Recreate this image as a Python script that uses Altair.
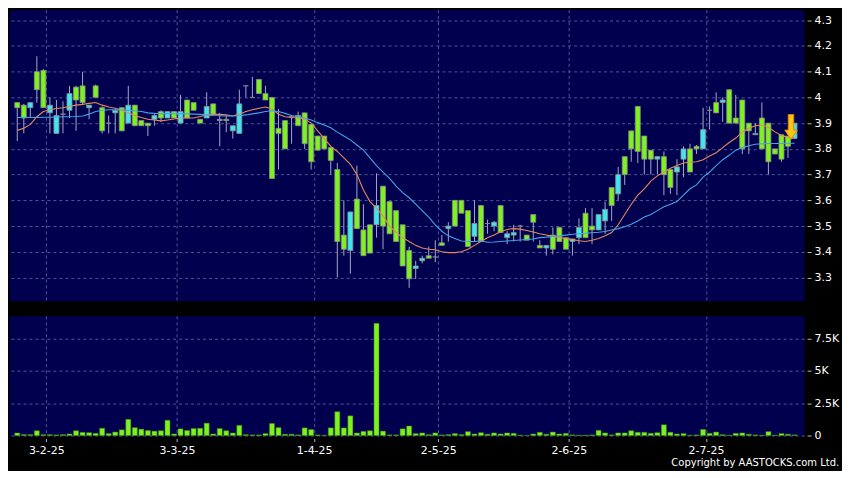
import altair as alt
import pandas as pd

# ---------------- data ----------------
opens = [3.98, 3.97, 3.96, 4.10, 4.105, 3.94, 3.86, 3.935, 3.95, 4.04,
         4.045, 3.96, 4.045, 3.96, 3.90, 3.94, 3.96, 3.90, 3.97, 3.91,
         3.90, 3.915, 3.945, 3.92, 3.945, 3.90, 3.99, 3.98, 3.915, 3.92,
         3.975, 3.91, 3.915, 3.87, 3.86, 4.045, 4.00, 4.07, 4.015, 4.00,
         3.88, 3.91, 3.925, 3.93, 3.94, 3.895, 3.85, 3.85, 3.805, 3.72,
         3.465, 3.405, 3.605, 3.485, 3.505, 3.505, 3.655, 3.595, 3.56, 3.505,
         3.405, 3.335, 3.365, 3.385, 3.38, 3.435, 3.49, 3.60, 3.60, 3.56,
         3.46, 3.58, 3.51, 3.50, 3.58, 3.455, 3.465, 3.50, 3.465, 3.545,
         3.425, 3.415, 3.465, 3.495, 3.455, 3.44, 3.455, 3.55, 3.50, 3.485,
         3.52, 3.65, 3.625, 3.77, 3.87, 3.965, 3.85, 3.795, 3.76, 3.77,
         3.72, 3.71, 3.76, 3.80, 3.81, 3.80, 3.95, 3.98, 3.98, 4.03,
         3.92, 3.99, 3.90, 3.855, 3.92, 3.90, 3.80, 3.855, 3.85, 3.84]
highs = [3.98, 3.975, 3.98, 4.16, 4.11, 4.00, 3.99, 3.985, 4.045, 4.045,
         4.10, 3.97, 4.05, 3.965, 3.93, 3.95, 3.96, 4.045, 3.97, 3.91,
         3.90, 3.935, 3.95, 3.945, 3.945, 4.01, 3.99, 3.98, 3.915, 4.02,
         3.975, 3.94, 3.93, 3.89, 4.03, 4.045, 4.08, 4.07, 4.045, 4.00,
         3.955, 3.91, 3.93, 3.945, 3.94, 3.895, 3.85, 3.85, 3.805, 3.745,
         3.60, 3.555, 3.735, 3.585, 3.505, 3.705, 3.655, 3.595, 3.56, 3.505,
         3.42, 3.365, 3.385, 3.42, 3.445, 3.465, 3.515, 3.60, 3.60, 3.56,
         3.60, 3.58, 3.525, 3.52, 3.58, 3.48, 3.505, 3.505, 3.465, 3.545,
         3.445, 3.425, 3.495, 3.495, 3.455, 3.45, 3.53, 3.57, 3.57, 3.545,
         3.595, 3.65, 3.73, 3.77, 3.87, 3.965, 3.85, 3.795, 3.77, 3.79,
         3.72, 3.76, 3.81, 3.82, 3.815, 3.96, 3.965, 4.02, 4.00, 4.03,
         4.01, 3.99, 3.90, 3.90, 3.98, 3.90, 3.80, 3.855, 3.85, 3.90]
lows = [3.83, 3.86, 3.92, 3.98, 3.96, 3.86, 3.86, 3.86, 3.92, 3.87,
        3.97, 3.915, 4.00, 3.86, 3.86, 3.86, 3.87, 3.90, 3.89, 3.89,
        3.85, 3.89, 3.905, 3.92, 3.92, 3.90, 3.92, 3.95, 3.90, 3.92,
        3.935, 3.81, 3.865, 3.84, 3.86, 4.00, 4.00, 4.015, 3.99, 3.685,
        3.72, 3.80, 3.82, 3.89, 3.80, 3.72, 3.795, 3.80, 3.70, 3.30,
        3.385, 3.315, 3.49, 3.385, 3.395, 3.455, 3.41, 3.47, 3.44, 3.345,
        3.26, 3.295, 3.355, 3.375, 3.36, 3.425, 3.44, 3.50, 3.55, 3.42,
        3.44, 3.44, 3.47, 3.48, 3.475, 3.43, 3.44, 3.44, 3.445, 3.44,
        3.415, 3.385, 3.39, 3.44, 3.41, 3.385, 3.43, 3.455, 3.43, 3.485,
        3.47, 3.52, 3.60, 3.66, 3.75, 3.745, 3.70, 3.70, 3.70, 3.62,
        3.625, 3.62, 3.69, 3.71, 3.78, 3.80, 3.875, 3.94, 3.905, 3.90,
        3.90, 3.78, 3.78, 3.855, 3.80, 3.70, 3.78, 3.75, 3.765, 3.84]
closes = [3.96, 3.92, 3.98, 4.03, 3.96, 3.97, 3.93, 3.935, 4.015, 3.99,
          3.98, 3.97, 4.00, 3.87, 3.90, 3.95, 3.87, 3.97, 3.89, 3.89,
          3.89, 3.93, 3.92, 3.945, 3.92, 3.945, 3.92, 3.95, 3.90, 3.965,
          3.935, 3.915, 3.91, 3.89, 3.975, 4.045, 4.00, 4.015, 3.99, 3.685,
          3.86, 3.80, 3.925, 3.89, 3.82, 3.75, 3.795, 3.80, 3.755, 3.44,
          3.41, 3.555, 3.49, 3.385, 3.395, 3.58, 3.50, 3.47, 3.44, 3.345,
          3.295, 3.345, 3.375, 3.375, 3.38, 3.425, 3.50, 3.50, 3.55, 3.42,
          3.51, 3.44, 3.51, 3.515, 3.475, 3.47, 3.475, 3.50, 3.445, 3.515,
          3.415, 3.425, 3.41, 3.44, 3.41, 3.45, 3.495, 3.455, 3.485, 3.545,
          3.565, 3.58, 3.70, 3.70, 3.80, 3.79, 3.76, 3.76, 3.77, 3.70,
          3.65, 3.73, 3.80, 3.71, 3.80, 3.875, 3.95, 3.94, 3.99, 3.90,
          3.90, 3.80, 3.87, 3.86, 3.80, 3.75, 3.78, 3.76, 3.81, 3.90]
volumes = [196, 70, 70, 370, 70, 70, 50, 70, 120, 370,
           245, 220, 170, 560, 150, 270, 440, 1250, 610, 490,
           390, 340, 370, 1180, 120, 515, 390, 540, 560, 955,
           120, 540, 370, 196, 785, 70, 50, 50, 150, 930,
           610, 100, 100, 50, 590, 465, 50, 25, 590, 1840,
           590, 1520, 196, 320, 370, 8670, 340, 50, 50, 515,
           735, 150, 200, 70, 200, 50, 70, 150, 70, 300,
           120, 220, 100, 200, 120, 200, 170, 30, 10, 120,
           250, 100, 270, 120, 170, 50, 30, 30, 50, 400,
           200, 50, 200, 200, 370, 250, 250, 170, 220, 830,
           250, 120, 150, 30, 50, 470, 170, 270, 70, 30,
           170, 200, 100, 50, 30, 300, 30, 150, 100, 50]
ma_short = [3.872, 3.88, 3.895, 3.925, 3.945, 3.952, 3.957, 3.96, 3.966, 3.97,
            3.973, 3.977, 3.98, 3.97, 3.963, 3.958, 3.95, 3.94, 3.93, 3.922,
            3.915, 3.912, 3.909, 3.912, 3.916, 3.92, 3.92, 3.92, 3.926, 3.932,
            3.934, 3.934, 3.932, 3.928, 3.935, 3.945, 3.952, 3.958, 3.963, 3.955,
            3.935, 3.925, 3.922, 3.92, 3.916, 3.90, 3.87, 3.84, 3.81, 3.79,
            3.765, 3.74, 3.70, 3.64, 3.595, 3.57, 3.54, 3.50, 3.475, 3.455,
            3.44, 3.425, 3.415, 3.41, 3.408, 3.40, 3.397, 3.397, 3.40, 3.41,
            3.425, 3.44, 3.455, 3.465, 3.478, 3.487, 3.49, 3.488, 3.483, 3.477,
            3.47, 3.465, 3.46, 3.456, 3.452, 3.448, 3.443, 3.44, 3.445, 3.452,
            3.462, 3.475, 3.505, 3.545, 3.585, 3.62, 3.645, 3.675, 3.695, 3.71,
            3.725, 3.735, 3.745, 3.748, 3.75, 3.758, 3.772, 3.785, 3.805, 3.825,
            3.842, 3.865, 3.88, 3.89, 3.893, 3.884, 3.866, 3.852, 3.845, 3.842]
ma_long = [3.922, 3.922, 3.922, 3.922, 3.923, 3.923, 3.924, 3.925, 3.925, 3.926,
           3.928, 3.935, 3.945, 3.95, 3.952, 3.952, 3.951, 3.95, 3.948, 3.945,
           3.94, 3.938, 3.937, 3.937, 3.937, 3.937, 3.936, 3.935, 3.934, 3.932,
           3.93, 3.929, 3.928, 3.928, 3.929, 3.932, 3.936, 3.94, 3.945, 3.948,
           3.945, 3.938, 3.93, 3.925, 3.92, 3.912, 3.902, 3.893, 3.882, 3.865,
           3.85, 3.835, 3.815, 3.795, 3.765, 3.735, 3.71, 3.685, 3.655, 3.63,
           3.61, 3.585, 3.56, 3.535, 3.505, 3.48, 3.462, 3.452, 3.442, 3.44,
           3.44, 3.443, 3.437, 3.438, 3.44, 3.442, 3.444, 3.446, 3.448, 3.45,
           3.455, 3.457, 3.46, 3.462, 3.465, 3.468, 3.47, 3.472, 3.474, 3.476,
           3.479, 3.485, 3.49, 3.497, 3.507, 3.52, 3.535, 3.545, 3.56, 3.575,
           3.585, 3.595, 3.62, 3.645, 3.66, 3.69, 3.71, 3.735, 3.758, 3.775,
           3.795, 3.805, 3.812, 3.818, 3.82, 3.821, 3.821, 3.821, 3.822, 3.822]

tick_idx = [4, 24, 45, 64, 84, 105]
tick_labels = ["3-2-25", "3-3-25", "1-4-25", "2-5-25", "2-6-25", "2-7-25"]
price_ticks = [3.3, 3.4, 3.5, 3.6, 3.7, 3.8, 3.9, 4.0, 4.1, 4.2, 4.3]
vol_ticks = [0, 2500, 5000, 7500]
vol_labels = ["0", "2.5K", "5K", "7.5K"]
arrow_idx = [118]
arrow_price = [3.885]
copyright_text = "Copyright by AASTOCKS.com Ltd."

# ---------------- styling ----------------
NAVY = "#00004e"
GRID = "#4b5896"
GREEN = "#7df21f"
CYAN = "#3fe6f2"
BORDER = "#8a8a8a"
WICK = "#a6a6c4"
ORANGE = "#e6895a"
BLUE = "#45a3e6"
FONT = "DejaVu Sans"

W = 797
H1 = 292
H2 = 120
X_DOMAIN = [-0.5, 119.7]
GRID_SHIFT = 0.45

n = len(opens)
df = pd.DataFrame({
    "i": list(range(n)), "o": opens, "h": highs, "l": lows, "c": closes,
    "v": volumes, "ma1": ma_short, "ma2": ma_long,
})
arrow_df = pd.DataFrame({"i": arrow_idx, "p": arrow_price})

grid_x = [t + GRID_SHIFT for t in tick_idx]
x_label_expr = "".join(
    f"round(datum.value - {GRID_SHIFT}) == {t} ? '{lab}' : "
    for t, lab in zip(tick_idx, tick_labels)
) + "''"
vol_label_expr = "".join(
    f"datum.value == {v} ? '{lab}' : " for v, lab in zip(vol_ticks, vol_labels)
) + "''"

x_scale = alt.Scale(domain=X_DOMAIN, nice=False, zero=False)
p_scale = alt.Scale(domain=[3.2094, 4.3415], nice=False, zero=False)

x_axis_price = alt.Axis(values=grid_x, grid=True, labels=False, ticks=False,
                        domain=False, title=None)
y_axis_price = alt.Axis(orient="right", values=price_ticks, format=".2~f",
                        offset=3, tickSize=4, labelPadding=3, grid=True,
                        domain=False, title=None)


def px(field="i:Q"):
    return alt.X(field, scale=x_scale, axis=x_axis_price)


def py(field):
    return alt.Y(field, scale=p_scale, axis=y_axis_price)


base = alt.Chart(df)

wicks = base.mark_rule(color=WICK, strokeWidth=1).encode(
    x=px(), y=py("l:Q"), y2="h:Q",
)

bodies = base.transform_calculate(
    dir="datum.c > datum.o ? 'up' : 'down'"
).mark_bar(size=5, stroke=BORDER, strokeWidth=0.8).encode(
    x=px(), y=py("o:Q"), y2="c:Q",
    color=alt.Color("dir:N", scale=alt.Scale(domain=["up", "down"], range=[CYAN, GREEN]),
                    legend=None),
)

ma1_line = base.mark_line(color=ORANGE, strokeWidth=1.1).encode(x=px(), y=py("ma1:Q"))
ma2_line = base.mark_line(color=BLUE, strokeWidth=1.1).encode(x=px(), y=py("ma2:Q"))

arrow_shape = "M-0.22,-1 L0.22,-1 L0.22,0.25 L0.5,0.25 L0,1 L-0.5,0.25 L-0.22,0.25 Z"
arrow = alt.Chart(arrow_df).mark_point(
    shape=arrow_shape, filled=True, fill="#ffc21a", stroke="#d88a00",
    strokeWidth=1, size=620, opacity=1, xOffset=3,
).encode(x=px(), y=py("p:Q"))

price = alt.layer(wicks, bodies, ma1_line, ma2_line, arrow).properties(width=W, height=H1)

volume = base.mark_bar(size=5, color=GREEN, stroke="#3f8a12", strokeWidth=0.5).encode(
    x=alt.X("i:Q", scale=x_scale,
            axis=alt.Axis(values=grid_x, labelExpr=x_label_expr, grid=True, ticks=True,
                          tickSize=3, offset=3, labelPadding=3, domain=False, title=None)),
    y=alt.Y("v:Q", scale=alt.Scale(domain=[0, 9250], nice=False),
            axis=alt.Axis(orient="right", values=vol_ticks, labelExpr=vol_label_expr,
                          offset=3, tickSize=4, labelPadding=3, grid=True,
                          domain=False, title=None)),
).properties(width=W, height=H2)

chart = alt.vconcat(price, volume, spacing=13).properties(
    background="black",
    padding={"left": 0, "top": 0, "right": 2, "bottom": 2},
    title=alt.TitleParams(copyright_text, orient="bottom", anchor="end",
                          color="white", font=FONT, fontSize=10, fontWeight="normal",
                          offset=2),
).configure_view(
    fill=NAVY, stroke="transparent",
).configure_axis(
    labelColor="white", labelFont=FONT, labelFontSize=11,
    tickColor="#b8b8b8", gridColor=GRID, gridDash=[3, 3], gridWidth=1,
)

chart.save("out.html", embed_options={"renderer": "svg", "actions": False})
